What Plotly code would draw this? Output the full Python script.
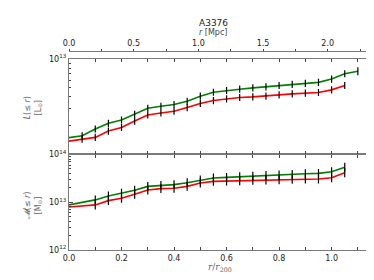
import plotly.graph_objects as go

# ---- data ----
x_lum = [0.0, 0.05, 0.1, 0.15, 0.2, 0.25, 0.3, 0.35, 0.4, 0.45, 0.5, 0.55,
         0.6, 0.65, 0.7, 0.75, 0.8, 0.85, 0.9, 0.95, 1.0, 1.05, 1.1]
lum_green = [1.50e12, 1.57e12, 1.85e12, 2.12e12, 2.30e12, 2.64e12, 3.05e12, 3.20e12,
             3.34e12, 3.61e12, 4.08e12, 4.49e12, 4.68e12, 4.83e12, 4.99e12, 5.11e12,
             5.28e12, 5.42e12, 5.55e12, 5.69e12, 6.16e12, 7.00e12, 7.43e12]
lum_red = [1.38e12, 1.45e12, 1.51e12, 1.76e12, 1.92e12, 2.24e12, 2.59e12, 2.72e12,
           2.84e12, 3.10e12, 3.42e12, 3.67e12, 3.82e12, 3.95e12, 4.01e12, 4.08e12,
           4.21e12, 4.31e12, 4.39e12, 4.46e12, 4.75e12, 5.28e12]
# relative (fractional) error bar half-sizes, 0 = no bar
lum_green_err = [0, 0.09, 0.09, 0.09, 0.09, 0.09, 0.09, 0.09, 0.09, 0.09, 0.09, 0.09,
                 0.09, 0.09, 0.09, 0.09, 0.09, 0.09, 0.09, 0.09, 0.09, 0.09, 0.10]
lum_red_err = [0, 0.09, 0.09, 0.09, 0.09, 0.09, 0.09, 0.09, 0.09, 0.09, 0.09, 0.09,
               0.09, 0.09, 0.09, 0.09, 0.09, 0.09, 0.09, 0.09, 0.09, 0.09]

x_mass = [0.0, 0.1, 0.15, 0.2, 0.25, 0.3, 0.35, 0.4, 0.45, 0.5, 0.55,
          0.6, 0.65, 0.7, 0.75, 0.8, 0.85, 0.9, 0.95, 1.0, 1.05]
mass_green = [8.79e12, 1.12e13, 1.35e13, 1.54e13, 1.78e13, 2.15e13, 2.26e13, 2.34e13,
              2.57e13, 2.92e13, 3.21e13, 3.32e13, 3.43e13, 3.53e13, 3.65e13, 3.71e13,
              3.83e13, 3.96e13, 4.02e13, 4.36e13, 5.43e13]
mass_red = [7.98e12, 8.79e12, 1.08e13, 1.21e13, 1.47e13, 1.80e13, 1.93e13, 1.96e13,
            2.15e13, 2.52e13, 2.74e13, 2.78e13, 2.83e13, 2.87e13, 2.92e13, 2.97e13,
            3.01e13, 3.06e13, 3.06e13, 3.27e13, 4.16e13]
mass_green_err = [0] + [0.24] * 20
mass_red_err = [0] + [0.24] * 20

r200_mpc = 2.03
x_max = 1.15

title_text = "A3376"
top_axis_title = "<i>r</i> [Mpc]"

GREEN = "#008000"
RED = "#ff0000"
FRAME = "#7a7a7a"
TICKC = "#444444"
FONT = "DejaVu Sans"


def err_up(vals, frac):
    return [v * f for v, f in zip(vals, frac)]


def err_dn(vals, frac):
    return [v * (1 - 1 / (1 + f)) for v, f in zip(vals, frac)]


fig = go.Figure()

# lines
fig.add_trace(go.Scatter(x=x_lum, y=lum_green, mode="lines", line=dict(color=GREEN, width=1.6),
                         xaxis="x2", yaxis="y2", showlegend=False, hoverinfo="skip"))
fig.add_trace(go.Scatter(x=x_lum[:len(lum_red)], y=lum_red, mode="lines", line=dict(color=RED, width=1.6),
                         xaxis="x2", yaxis="y2", showlegend=False, hoverinfo="skip"))
fig.add_trace(go.Scatter(x=x_mass, y=mass_green, mode="lines", line=dict(color=GREEN, width=1.6),
                         xaxis="x", yaxis="y", showlegend=False, hoverinfo="skip"))
fig.add_trace(go.Scatter(x=x_mass, y=mass_red, mode="lines", line=dict(color=RED, width=1.6),
                         xaxis="x", yaxis="y", showlegend=False, hoverinfo="skip"))


def add_err(xs, ys, frac, xa, ya):
    fig.add_trace(go.Scatter(
        x=xs, y=ys, mode="markers", marker=dict(size=1, opacity=0),
        error_y=dict(type="data", symmetric=False, array=err_up(ys, frac),
                     arrayminus=err_dn(ys, frac), color="black", thickness=1.2, width=0),
        xaxis=xa, yaxis=ya, showlegend=False, hoverinfo="skip"))


add_err(x_lum, lum_green, lum_green_err, "x2", "y2")
add_err(x_lum[:len(lum_red)], lum_red, lum_red_err, "x2", "y2")
add_err(x_mass, mass_green, mass_green_err, "x", "y")
add_err(x_mass, mass_red, mass_red_err, "x", "y")

# dummy trace to realise top Mpc axis
fig.add_trace(go.Scatter(x=[0, x_max * r200_mpc], y=[None, None], mode="lines",
                         xaxis="x3", yaxis="y2", showlegend=False, hoverinfo="skip"))

split = 0.4799
top = 0.9598

common_x = dict(showgrid=False, zeroline=False, showline=True, linecolor=FRAME, linewidth=1.2,
                mirror="ticks", ticks="inside", ticklen=3, tickcolor=TICKC, tickwidth=1,
                range=[0, x_max],
                minor=dict(dtick=0.1, ticks="inside", ticklen=3, tickcolor=TICKC))

minor_y = [m * 10 ** e for e in (12, 13) for m in range(2, 10)]

common_y = dict(type="log", showgrid=False, zeroline=False, showline=True, linecolor=FRAME,
                linewidth=1.2, mirror="ticks", ticks="inside", ticklen=4, tickcolor=TICKC,
                tickwidth=1,
                minor=dict(tickvals=minor_y, ticks="inside", ticklen=2, tickcolor=TICKC))

fig.update_layout(
    width=374, height=280,
    margin=dict(l=61, r=11, t=43, b=38),
    paper_bgcolor="white", plot_bgcolor="white",
    template="none",
    font=dict(family=FONT, size=8, color="#222222"),
    xaxis=dict(domain=[0, 1], anchor="y", tickvals=[0, 0.2, 0.4, 0.6, 0.8, 1.0],
               ticktext=["0.0", "0.2", "0.4", "0.6", "0.8", "1.0"],
               tickfont=dict(size=8), **common_x),
    xaxis2=dict(domain=[0, 1], anchor="y2", matches="x", showticklabels=False, **common_x),
    xaxis3=dict(overlaying="x2", anchor="free", position=1, side="top",
                range=[0, x_max * r200_mpc], showgrid=False, zeroline=False, showline=True,
                linecolor=FRAME, linewidth=1.2, ticks="outside", ticklen=2, tickcolor=TICKC,
                tickvals=[0, 0.5, 1.0, 1.5, 2.0], ticktext=["0.0", "0.5", "1.0", "1.5", "2.0"],
                tickfont=dict(size=8),
                minor=dict(tickvals=[0.25, 0.75, 1.25, 1.75, 2.25], ticks="outside",
                           ticklen=2, tickcolor=TICKC)),
    yaxis=dict(domain=[0, split], anchor="x", range=[12, 14],
               tickvals=[1e12, 1e13, 1e14],
               ticktext=["10<sup>12</sup>", "10<sup>13</sup>", "10<sup>14</sup>"],
               tickfont=dict(size=8), **common_y),
    yaxis2=dict(domain=[split, top], anchor="x2", range=[12, 13],
                tickvals=[1e12, 1e13], ticktext=["", "10<sup>13</sup>"],
                tickfont=dict(size=8), **common_y),
)

ann = dict(xref="paper", yref="paper", showarrow=False)
fig.add_annotation(x=0.478, y=1.1407, text=title_text, font=dict(size=9, color="#222222"),
                   xanchor="center", yanchor="middle", **ann)
fig.add_annotation(x=0.478, y=1.0905, text=top_axis_title, font=dict(size=8, color="#444444"),
                   xanchor="center", yanchor="middle", **ann)
fig.add_annotation(x=-0.118, y=0.7136, text="<i>L</i>(≤ <i>r</i>)<br>[L<sub>⊙</sub>]",
                   textangle=-90, font=dict(size=8, color="#666666"),
                   xanchor="center", yanchor="middle", **ann)
fig.add_annotation(x=-0.118, y=0.226, text="<i>𝓜</i>(≤ <i>r</i>)<br>[M<sub>⊙</sub>]",
                   textangle=-90, font=dict(size=8, color="#666666"),
                   xanchor="center", yanchor="middle", **ann)
fig.add_annotation(x=0.5, y=-0.0855, text="<i>r</i>/<i>r</i><sub>200</sub>",
                   font=dict(size=9, color="#666666", family="DejaVu Serif"),
                   xanchor="center", yanchor="middle", **ann)

fig.write_html("out.html")
